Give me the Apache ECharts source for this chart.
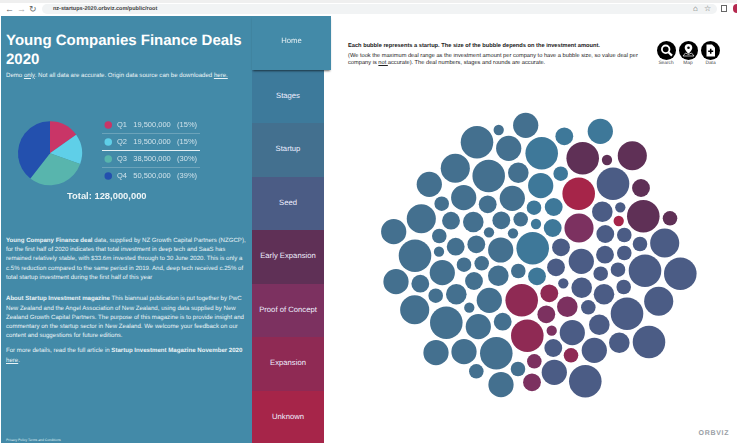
<!DOCTYPE html>
<html lang="en">
<head>
    <meta charset="UTF-8">
    <title>Young Companies Finance Deals 2020</title>
    <script src="https://cdn.jsdelivr.net/npm/echarts@6.0.0/dist/echarts.min.js"></script>
    <style>
        html, body { margin: 0; padding: 0; width: 737px; height: 444px; overflow: hidden; background: #fff;
            font-family: "Liberation Sans", Arial, sans-serif; text-rendering: geometricPrecision; }
        div { position: absolute; }
        #chart { left: 0; top: 0; width: 737px; height: 444px; }
        #bar { left: 0; top: 0; width: 737px; height: 16px; background: #fff; border-top: 3px solid #efefef; box-sizing: border-box; }
        #pill { left: 42px; top: 1px; width: 675px; height: 10px; border-radius: 5px; background: #f1f3f4; color: #444;
            font-size: 5.5px; line-height: 10px; padding-left: 11px; box-sizing: border-box; font-weight: bold; }
        .nav { top: 1px; color: #666; font-size: 9px; line-height: 10px; }
        #side { left: 1px; top: 16px; width: 251px; height: 427px; background: #438aa8; color: #fff; }
        #side div { white-space: nowrap; }
        h1 { position: absolute; left: 5px; top: 14.5px; margin: 0; font-size: 15px; line-height: 19px; font-weight: bold; color: #fff; white-space: nowrap; }
        .para { left: 5px; font-size: 6.1px; line-height: 9.2px; color: #eaf3f6; }
        a { color: inherit; text-decoration: underline; }
        .tab { left: 252px; width: 72px; text-align: center; color: #eef; font-size: 7.7px; }
        #home { left: 252px; top: 16px; width: 79px; height: 54px; line-height: 50px; background: #438aa8; text-align: center;
            color: #e8f2f5; font-size: 7.7px; box-shadow: 0 2px 2px -1px rgba(0,0,0,.6); z-index: 2; }
        .sep { left: 102px; width: 98px; height: 1px; }
        .head { left: 348px; font-size: 5.7px; line-height: 7px; color: #222; white-space: nowrap; }
        .cap { top: 61px; width: 30px; text-align: center; font-size: 4.8px; line-height: 6px; color: #444; }
        #logo { left: 698.5px; top: 429.5px; font-size: 7px; line-height: 8px; font-weight: bold; letter-spacing: .7px; color: #9aa0a6; }
    </style>
</head>
<body>
<div id="bar">
    <div class="nav" style="left:5px">&#8592;</div>
    <div class="nav" style="left:17px;color:#aaa">&#8594;</div>
    <div class="nav" style="left:29px">&#8635;</div>
    <div id="pill">nz-startups-2020.orbviz.com/public/root</div>
    <div class="nav" style="left:693px;font-size:8px">&#8962;</div>
    <div class="nav" style="left:704px;font-size:8px">&#9734;</div>
    <div style="left:721px;top:2px;width:6px;height:7px;border:1px solid #666;box-sizing:border-box"></div>
    <div style="left:733px;top:1px;width:4px;height:9px;background:#b5294f;border-radius:4px 0 0 4px"></div>
</div>
<div id="side">
    <h1>Young Companies Finance Deals<br>2020</h1>
    <div class="para" style="top:54.7px">Demo <u>only</u>. Not all data are accurate. Origin data source can be downloaded <a>here.</a></div>
    <div class="para" style="top:220px"><b>Young Company Finance deal</b> data, supplied by NZ Growth Capital Partners (NZGCP),<br>for the first half of 2020 indicates that total investment in deep tech and SaaS has<br>remained relatively stable, with $33.6m invested through to 30 June 2020. This is only a<br>c.5% reduction compared to the same period in 2019. And, deep tech received c.25% of<br>total startup investment during the first half of this year</div>
    <div class="para" style="top:278.4px"><b>About Startup Investment magazine</b> This biannual publication is put together by PwC<br>New Zealand and the Angel Association of New Zealand, using data supplied by New<br>Zealand Growth Capital Partners. The purpose of this magazine is to provide insight and<br>commentary on the startup sector in New Zealand. We welcome your feedback on our<br>content and suggestions for future editions.</div>
    <div class="para" style="top:330.4px">For more details, read the full article in <b>Startup Investment Magazine November 2020</b><br><a>here</a>.</div>
    <div style="left:5px;top:422px;font-size:3.4px;line-height:5px;color:#dfeaef">Privacy Policy Terms and Conditions</div>
</div>
<div id="home">Home</div>
<div class="tab" style="top:70px;height:53px;line-height:51px;background:#3d7a9b">Stages</div>
<div class="tab" style="top:123px;height:54px;line-height:52px;background:#43708f">Startup</div>
<div class="tab" style="top:177px;height:53px;line-height:51px;background:#4b5c85">Seed</div>
<div class="tab" style="top:230px;height:54px;line-height:52px;background:#5f3056">Early Expansion</div>
<div class="tab" style="top:284px;height:53px;line-height:51px;background:#7c3160">Proof of Concept</div>
<div class="tab" style="top:337px;height:54px;line-height:52px;background:#8f2a54">Expansion</div>
<div class="tab" style="top:391px;height:52px;line-height:52px;background:#a62549">Unknown</div>
<div class="sep" style="top:133px;background:#6ba3ba"></div>
<div class="sep" style="top:150px;background:#e4eff3"></div>
<div class="sep" style="top:167px;background:#6ba3ba"></div>
<div class="head" style="top:43.3px"><b>Each bubble represents a startup. The size of the bubble depends on the investment amount.</b></div>
<div class="head" style="top:53px">(We took the maximum deal range as the investment amount per company to have a bubble size, so value deal per</div>
<div class="head" style="top:59.7px">company is <u>not </u>accurate). The deal numbers, stages and rounds are accurate.</div>
<svg style="position:absolute;left:656.5px;top:41px" width="19" height="19" viewBox="0 0 19 19"><circle cx="9.5" cy="9.5" r="9.5"/><circle cx="8.7" cy="8.3" r="3.8" fill="none" stroke="#fff" stroke-width="1.8"/><path d="M11.5 11.2L15 14.6" stroke="#fff" stroke-width="2.2"/></svg>
<svg style="position:absolute;left:678.5px;top:41px" width="19" height="19" viewBox="0 0 19 19"><circle cx="9.5" cy="9.5" r="9.5"/><path d="M9.5 3a3.8 3.8 0 0 1 3.8 3.8c0 2.4-3.8 6-3.8 6s-3.8-3.6-3.8-6A3.8 3.8 0 0 1 9.5 3z" fill="#fff"/><circle cx="9.5" cy="6.8" r="1.3"/><path d="M4 15l2.5-3 3 1.5 3-1.5 2.5 3z" fill="none" stroke="#fff" stroke-width=".7"/></svg>
<svg style="position:absolute;left:701px;top:41px" width="19" height="19" viewBox="0 0 19 19"><circle cx="9.5" cy="9.5" r="9.5"/><path d="M5.5 3.5h5.5l3 3v9h-8.5z" fill="#fff"/><path d="M9.7 7.8v5M7.2 10.3h5" stroke="#000" stroke-width="1.5"/></svg>
<div class="cap" style="left:651px">Search</div>
<div class="cap" style="left:673px">Map</div>
<div class="cap" style="left:695.5px">Data</div>
<div id="logo">ORBVIZ</div>
<div id="chart"></div>

<script>
    // quarterly totals
    var quarters = ['Q1', 'Q2', 'Q3', 'Q4'];
    var quarterAmounts = [19500000, 19500000, 38500000, 50500000];
    var quarterShares = ['15%', '15%', '30%', '39%'];

    // deals by stage: [x, y, investment in $m]
    var preStartDeals = [
        [541.7, 153.3, 2.5], [540.7, 185.7, 1.5], [534, 207.7, 0.5], [536, 224, 0.25], [532.7, 248.3, 2.5],
        [537, 276.3, 0.75], [564.3, 136.3, 0.75], [600.3, 131.3, 1.5], [560.7, 173.7, 0.5], [553.7, 207, 0.75],
        [552.7, 228, 0.75]
    ];
    var startupDeals = [
        [525.7, 125.3, 1.5], [498.7, 130, 0.25], [477, 142.3, 2.5], [508.7, 148.3, 1.5], [455.3, 168.3, 2],
        [488.7, 176, 2.5], [518.3, 172.7, 1], [429.3, 184.3, 1.5], [463.7, 197.7, 1.5], [441.7, 203.7, 0.5],
        [487.7, 204.3, 0.75], [512.3, 198.3, 1.5], [421.3, 218.7, 2], [451, 220.7, 0.75], [473.3, 222, 1],
        [501.3, 220.3, 0.75], [520.7, 219.3, 0.5], [393.7, 231.7, 1.5], [439.3, 236, 0.5], [489, 232.3, 0.25],
        [513, 233.3, 0.25], [415, 255.7, 2.5], [439, 251.7, 0.25], [455.7, 246.7, 0.75], [476.3, 244.3, 0.75],
        [500.7, 250, 1.5], [442.3, 272.7, 1.5], [464, 264.7, 0.5], [481.7, 263.3, 0.5], [396, 281.7, 1.5],
        [420.3, 283.7, 0.75], [474, 281, 0.75], [498.3, 275.7, 1], [518.3, 271, 0.5], [435.7, 295.7, 0.5],
        [456.3, 294.3, 1], [489.3, 300.3, 1.5], [414.7, 309.7, 2], [469.3, 307.7, 0.25], [446.3, 322.7, 2.5],
        [478.3, 326.7, 1.5], [502.7, 321.7, 0.75], [436, 352.7, 1.5], [464, 351.7, 1.5], [496.3, 353.3, 2.5],
        [476.3, 371.3, 0.5], [518, 369, 0.5], [501, 384.7, 1.5]
    ];
    var seedDeals = [
        [613, 183.7, 2.5], [602.3, 211.7, 1], [620.3, 207.3, 0.25], [605.3, 234, 0.75], [624.3, 235, 0.5],
        [640, 244, 0.5], [664.7, 243, 2], [561, 247.3, 0.75], [605, 254.7, 0.75], [624.3, 253, 0.5],
        [581.3, 261.3, 1.5], [556, 267.3, 0.75], [645, 270.7, 2.5], [680.3, 273.7, 2.5], [600.7, 273.7, 0.5],
        [618, 269.7, 0.5], [563.3, 283.3, 0.25], [581.7, 287.7, 1], [604, 294.3, 1], [623.7, 287, 0.5],
        [588.3, 307.3, 0.5], [627, 313.7, 2.5], [658.7, 301.3, 2], [599.3, 324.7, 1], [572.3, 332.7, 1.5],
        [619.3, 342.7, 1], [649, 342, 2.5], [594.3, 350.3, 1.5], [553.3, 348, 0.75], [554.3, 372.3, 1.5],
        [585.3, 381.3, 2.5]
    ];
    var earlyExpansionDeals = [
        [582.7, 158.3, 2.5], [607, 160, 0.25], [632.3, 155.7, 2], [641, 188, 0.75], [643.3, 216.3, 2.5],
        [670, 218.3, 0.5]
    ];
    var proofOfConceptDeals = [
        [579, 228, 2], [567.3, 306.7, 1], [546.3, 314.3, 0.75], [551.7, 330.7, 0.25], [534.3, 361.3, 0.5],
        [532, 382.3, 0.75]
    ];
    var expansionDeals = [
        [521.7, 300.3, 2.5], [527.3, 335.7, 2.5], [549.3, 293.3, 0.75], [571, 355.3, 0.5]
    ];
    var unknownDeals = [
        [578.7, 193.7, 2.5], [618.7, 221, 0.25]
    ];

    var chart = echarts.init(document.getElementById('chart'));

    function bubbles(name, data, color) {
        return {
            name: name,
            type: 'scatter',
            data: data,
            symbolSize: function (value) {
                return 20.6 * Math.sqrt(value[2]);  // area follows the amount
            },
            itemStyle: {color: color, opacity: 1},
            silent: true
        };
    }

    var pieData = quarters.map(function (q, i) {
        return {name: q, value: quarterAmounts[i]};
    });

    chart.setOption({
        animation: false,
        backgroundColor: 'transparent',
        textStyle: {fontFamily: 'Liberation Sans'},
        title: {
            text: 'Total: 128,000,000',
            left: 67,
            top: 191.5,
            padding: 0,
            textStyle: {color: '#eef5f7', fontSize: 9.4, fontWeight: 'bold'}
        },
        legend: {
            data: quarters,
            orient: 'vertical',
            left: 104.5,
            top: 120,
            padding: 0,
            itemWidth: 7.5,
            itemHeight: 7.5,
            itemGap: 7,
            icon: 'circle',
            textStyle: {color: '#cfe2ea', fontSize: 7.5, lineHeight: 10},
            formatter: function (name) {
                var i = quarters.indexOf(name);
                return name + '   ' + quarterAmounts[i].toLocaleString('en-US') + '   (' + quarterShares[i] + ')';
            }
        },
        grid: {left: 0, right: 0, top: 0, bottom: 0},
        xAxis: {type: 'value', min: 0, max: 737, show: false},
        yAxis: {type: 'value', min: 0, max: 444, inverse: true, show: false},
        series: [
            {
                name: 'Quarters',
                type: 'pie',
                center: [50, 153.3],
                radius: [0, 32],
                startAngle: 90,
                clockwise: true,
                label: {show: false},
                silent: true,
                color: ['#c93567', '#5fcfe8', '#58b5ad', '#2350ae'],
                data: pieData
            },
            bubbles('Stages', preStartDeals, '#3e7899'),
            bubbles('Startup', startupDeals, '#44708f'),
            bubbles('Seed', seedDeals, '#4b5c85'),
            bubbles('Early Expansion', earlyExpansionDeals, '#5f3056'),
            bubbles('Proof of Concept', proofOfConceptDeals, '#7c3160'),
            bubbles('Expansion', expansionDeals, '#8f2a54'),
            bubbles('Unknown', unknownDeals, '#a62549')
        ]
    });
</script>
</body>
</html>
